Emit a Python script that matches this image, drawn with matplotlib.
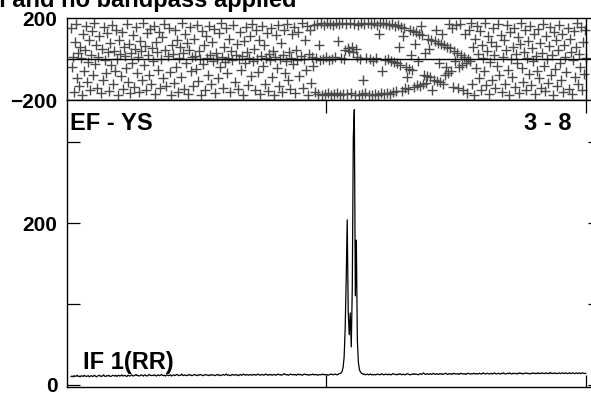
import matplotlib
matplotlib.use('Agg')
import matplotlib.pyplot as plt
import numpy as np

fontFamily = 'Liberation Sans'
labelSize = 15
textSize = 17

firstChannel = 5
xTicks = [256, 512]
ampTicks = [0, 100, 200, 300]
ampTickLabels = ['0', '', '200', '']
phaseTicks = [-200, 200]

titleText = 'No calibration and no bandpass applied'
baselineText = 'EF - YS'
sourceText = '3 - 8'
ifText = 'IF 1(RR)'

# amplitude per channel, channels 5..512
amplitude = [
    10.5, 11, 10, 11.5, 10.5, 11, 12, 10.5, 11, 10, 11.5, 11, 10.5, 12, 11, 10.5, 11, 11.5, 10, 11,
    11.5, 10.5, 11, 12, 11, 10, 11, 11.5, 12, 10.5, 11, 11, 12.5, 11, 10.5, 11.5, 11, 12, 11, 10.5,
    11, 12, 11.5, 11, 12, 10.5, 11.5, 12, 11, 11.5, 12.5, 11, 11.5, 12, 11, 10.5, 12, 11.5, 11, 12,
    12.5, 11, 11.5, 12, 13, 11.5, 12, 11, 11.5, 12.5, 12, 11, 12, 12.5, 11.5, 11, 12, 13, 12, 11.5,
    12, 11.5, 12.5, 12, 11, 12, 12.5, 11.5, 12, 13, 12, 11.5, 12, 11, 12.5, 12, 11.5, 12, 12.5, 11,
    12, 12.5, 11.5, 12, 13, 12.5, 11.5, 12, 12, 13.5, 12, 11.5, 12.5, 12, 11.5, 12, 13, 12, 12.5, 11.5,
    12, 12.5, 13, 12, 11.5, 12.5, 12, 13, 12.5, 12, 11.5, 12, 13, 12.5, 12, 12.5, 11.5, 12, 13, 12,
    12.5, 12, 11.5, 12.5, 13, 12, 12.5, 11.5, 12, 12.5, 13, 12, 12.5, 13.5, 12, 12.5, 12, 11.5, 12.5, 13,
    12, 12.5, 13, 12, 12.5, 11.5, 12.5, 13, 12, 12.5, 13.5, 12.5, 12, 13, 12.5, 12, 13, 12.5, 12, 13,
    12.5, 13, 12, 12.5, 13.5, 13, 12, 12.5, 13, 12.5, 12, 13, 13.5, 12.5, 12, 13, 12.5, 13, 12, 12.5,
    13, 12.5, 12, 13, 13.5, 12.5, 13, 12, 12.5, 13, 14, 13, 12.5, 13, 12, 12.5, 13.5, 13, 12.5, 13,
    12.5, 13, 12, 13, 13.5, 12.5, 13, 12.5, 12, 13, 13.5, 13, 12.5, 13, 12, 12.5, 13, 12.5, 13.5, 12.5,
    13, 12.5, 13, 12, 12.5, 13, 12.5, 13, 13.5, 12.5, 13, 12.5, 13, 12, 12.5, 13, 13.5, 13, 12.5, 13,
    13.5, 13, 12.5, 13, 14, 14, 15, 17, 22, 35, 70, 130, 204, 90, 62, 89, 47, 120, 306, 340,
    110, 179, 55, 28, 19, 16, 14.5, 14, 13, 13.5, 12.5, 13, 13.5, 12.5, 13, 13.5, 12.5, 13, 12.5, 13,
    12.5, 13, 13.5, 13, 12.5, 13, 14, 13, 12.5, 13, 13.5, 13, 12.5, 13.5, 13, 12.5, 13, 14, 13.5, 13,
    13, 12.5, 13.5, 13, 14, 13, 12.5, 13.5, 13, 12.5, 13, 14, 13.5, 13, 12.5, 13, 13.5, 13, 14, 13,
    13.5, 13, 12.5, 13.5, 14, 13, 13.5, 15, 14, 13, 13.5, 14, 13, 13.5, 14, 13, 13.5, 14.5, 13.5, 13,
    14, 13.5, 13, 14, 13.5, 14, 13, 13.5, 14, 14.5, 13.5, 13, 14, 13.5, 14, 13, 14, 14.5, 13.5, 14,
    13.5, 14, 13, 14, 14.5, 13.5, 14, 13.5, 14, 13, 14, 14.5, 14, 13.5, 14, 13.5, 14, 14.5, 13.5, 14,
    14, 13.5, 14.5, 14, 13.5, 14, 15, 14, 13.5, 14, 14.5, 14, 13.5, 14, 14.5, 13.5, 14, 15, 14, 13.5,
    14, 14.5, 14, 13.5, 14.5, 14, 15, 14, 13.5, 14, 14.5, 14, 15, 14, 13.5, 14.5, 14, 14.5, 14, 13.5,
    14.5, 14, 15, 14, 14.5, 13.5, 14, 14.5, 15, 14, 14.5, 14, 13.5, 14.5, 14, 15, 14.5, 14, 14.5, 14,
    15, 14, 14.5, 14, 15, 14.5, 14, 14.5, 15, 14, 14.5, 14, 15.5, 14.5, 14, 14.5, 15, 14, 14.5, 14,
    14.5, 15, 14, 14.5, 15, 14.5, 14, 15, 14.5, 14, 14.5, 15, 14, 14.5, 15, 14.5, 14, 14.5, 15, 14,
    14.5, 15, 14, 14.5, 15, 14.5, 14, 14.5,
]

# phase (degrees) per channel, channels 5..512
phase = [
    150, -40, 12, -160, 85, 170, -95, 30, -130, 60, 5, -175, 120, -60, 45, 160, -110, -15, 95, -150,
    20, 135, -80, 175, -25, 70, -140, 10, 110, -165, 50, -100, 155, -5, -70, 125, 35, -155, 80, -30,
    165, -120, 40, -60, 140, 0, -175, 95, 25, -85, 130, -145, 60, 15, -45, 170, -110, 75, -165, 30,
    -20, 115, -135, 50, 155, -70, 10, -160, 90, 40, -100, 175, -30, 65, -150, 125, 20, -80, 145, -120,
    55, -10, 160, -170, 85, 35, -55, 130, -140, 0, 105, -95, 170, 45, -130, 15, 150, -65, -175, 70,
    25, -115, 140, -40, 95, -160, 5, 60, -90, 175, 30, -145, 120, -20, 80, -170, 45, 155, -60, 10,
    -130, 100, 15, -50, 165, -105, 40, 0, -175, 135, -25, 70, -150, 110, 5, -80, 160, 20, -120, 85,
    -10, 145, -165, 30, 0, -95, 125, -40, 175, 10, -140, 60, -15, 150, -70, 5, 100, -160, 40, -5,
    165, -110, 20, 75, -145, 0, 130, -55, 15, -175, 90, -20, 155, 35, -125, 5, 110, -85, 170, -10,
    50, -150, 140, 0, -65, 95, -170, 15, 160, -35, 70, -120, 5, 125, -155, 25, -5, 150, -90, 40,
    -175, 10, 115, -45, 165, -130, 0, 80, -160, 20, 140, -70, -10, 170, -100, 35, -145, 5, 120, -25,
    155, -165, 45, -5, 130, -85, 15, 175, -140, 0, 95, -55, 160, -175, 25, 140, -115, 10, -35, 165,
    -160, 5, 170, -170, 70, -5, 175, -175, 0, 168, -172, 8, 176, -168, -4, 172, -178, 2, 165, -170,
    10, 178, -165, 90, 170, -176, 4, 174, -172, 0, 45, 170, -170, 55, 40, 175, -168, 60, 35, 172,
    -174, 50, 8, 168, -176, 0, 175, -170, -100, 172, -166, 6, 178, -174, 0, 170, -178, -8, 176, -170,
    4, 168, -175, 120, 174, -168, -60, 177, -172, -6, 170, -165, 2, 165, -170, -10, 172, -160, -15, 160,
    -158, -20, 168, 60, -30, 155, -155, 110, 150, -140, -40, -90, -145, -50, 140, 20, -55, 135, -135, 75,
    130, -125, -10, 120, -130, 160, 115, -120, -80, 30, -115, -85, 100, 50, -90, 95, -150, -100, 90, 140,
    -105, 80, -20, -110, 75, 120, -120, 70, -80, -40, 60, -70, 170, 55, -60, 150, -135, 40, -10, 165,
    30, -140, -40, 170, 20, -30, -150, 10, 120, -20, -165, 0, 140, -10, 175, -120, 60, -175, 100, -45,
    160, 25, -95, 135, -150, 70, 5, -60, 175, -125, 40, 110, -170, -15, 85, -100, 150, 20, -140, 65,
    -35, 170, -80, 115, -160, 10, 95, -120, 45, 165, -55, -175, 130, 0, -90, 60, 150, -135, 25, -20,
    105, -165, 75, 175, -45, -110, 35, 140, -150, 5, 90, -75, 160, -125, 55, -10, 120, -170, 15, -60,
    145, -95, 80, -140, 30, 170, -35, -155, 110, 0, -115, 65, 155, -80, 20, -175, 130, -50, 95, -130,
    45, 165, -20, -100, 120, -160, 70, 10, -65, 150, -145, 100, 35, -170, -5, 135, -90, 60, 175, -120,
    25, -40, 155, -150, 85, -75, 140, 5,
]


def PossmPlot():
    plt.rcParams['font.family'] = [fontFamily, 'DejaVu Sans']
    plt.rcParams['font.weight'] = 'bold'
    fig = plt.figure(figsize=(5.91, 3.95), dpi=100)

    # figure is cropped on the right, axes run a little past the edge
    left = 67 / 591
    width = 533 / 591
    axPh = fig.add_axes([left, 1 - 100 / 395, width, 82 / 395])
    axAmp = fig.add_axes([left, 1 - 387 / 395, width, 287 / 395])

    chPh = np.arange(firstChannel, firstChannel + len(phase))
    chAmp = np.arange(firstChannel, firstChannel + len(amplitude))

    # phase panel
    axPh.plot(chPh, phase, linestyle='none', marker='+', markersize=6.8,
              markeredgewidth=1.0, color='#4a4a4a')
    axPh.axhline(0, color='black', linewidth=1.0)
    axPh.axvline(xTicks[-1], color='black', linewidth=1.0)
    axPh.set_xlim(1, 526)
    axPh.set_ylim(-200, 200)
    axPh.set_xticks([])
    axPh.set_yticks(phaseTicks)
    axPh.tick_params(axis='y', length=0, pad=7, labelsize=labelSize)

    # amplitude panel
    axAmp.plot(chAmp, amplitude, color='black', linewidth=0.9)
    axAmp.set_xlim(1, 526)
    axAmp.set_ylim(-2.5, 352)
    axAmp.set_xticks(xTicks)
    axAmp.set_xticklabels([])
    axAmp.set_yticks(ampTicks)
    axAmp.set_yticklabels(ampTickLabels)
    axAmp.tick_params(axis='both', direction='in', top=True, right=True,
                      length=9, width=0.9, pad=7, labelsize=labelSize)

    for ax in (axPh, axAmp):
        for sp in ax.spines.values():
            sp.set_linewidth(1.0)
            sp.set_color('black')
        for lab in ax.get_yticklabels():
            lab.set_fontweight('bold')

    axAmp.text(3 / 533, 0.958, baselineText, transform=axAmp.transAxes,
               ha='left', va='top', fontsize=textSize, fontweight='bold')
    axAmp.text(505 / 533, 0.958, sourceText, transform=axAmp.transAxes,
               ha='right', va='top', fontsize=textSize, fontweight='bold')
    axAmp.text(16 / 533, 0.125, ifText, transform=axAmp.transAxes,
               ha='left', va='top', fontsize=textSize, fontweight='bold')

    # title sits partly outside the top/left of the picture
    fig.text(296 / 591, 1 - 7 / 395, titleText, ha='right', va='baseline',
             fontsize=textSize, fontweight='bold')

    fig.savefig('out.png', dpi=100)


if __name__ == '__main__':
    PossmPlot()
